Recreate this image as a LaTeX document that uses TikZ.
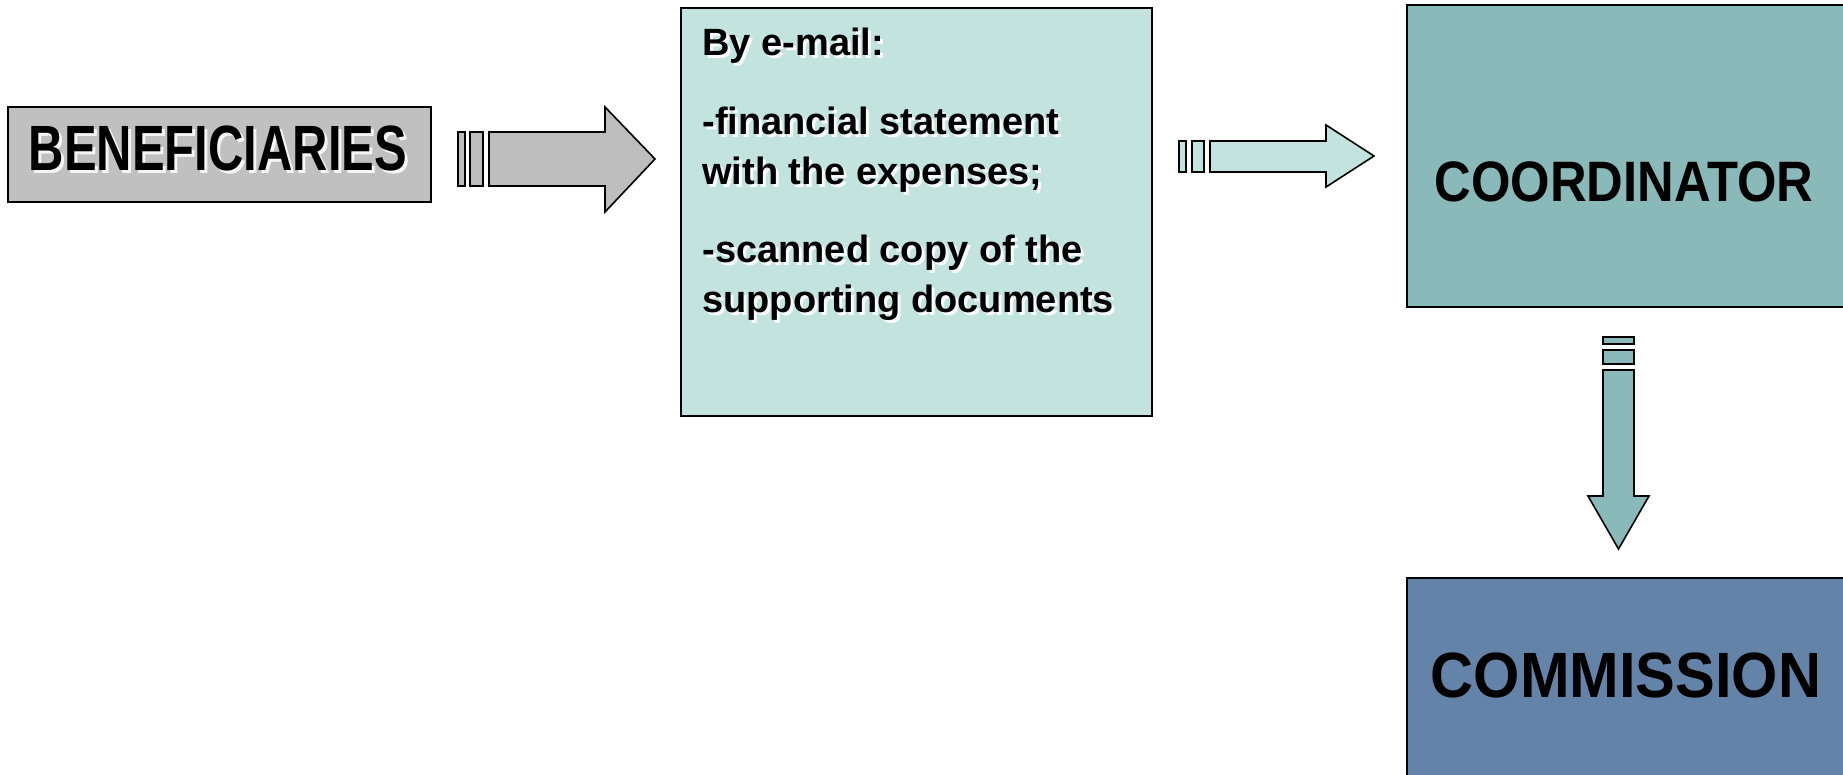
\documentclass[tikz,border=0pt]{standalone}
\usepackage{fontspec}
\setmainfont{Liberation Sans}
\usetikzlibrary{calc}

\definecolor{boxgrey}{HTML}{C0C0C0}
\definecolor{arrowgrey}{HTML}{BDBDBD}
\definecolor{mailfill}{HTML}{C3E3DF}
\definecolor{coordfill}{HTML}{8AB9B9}
\definecolor{commfill}{HTML}{6483A8}

% text with a soft white cast shadow below and to the right
\newcommand\castlabel[4]{%
  \node[#3, text=white, opacity=0.85] (#1s) at ($(#2)+(3,3)$) {#4};
  \node[#3] (#1) at (#2) {#4};}

\begin{document}
\begin{tikzpicture}[x=0.5pt, y=-0.5pt,
    panel/.style={draw=black, line width=0.8pt, inner sep=0pt, outer sep=0pt},
    blockarrow/.style={draw=black, line width=0.8pt, line join=miter},
    mailtext/.style={anchor=base west, inner sep=0pt, font=\bfseries\fontsize{19pt}{22pt}\selectfont},
    bigtext/.style={anchor=base, inner sep=0pt, font=\bfseries\fontsize{32pt}{36pt}\selectfont},
    midtext/.style={anchor=base, inner sep=0pt, font=\bfseries\fontsize{28.5pt}{32pt}\selectfont}]

\clip (0,0) rectangle (1843,775);
\fill[white] (0,0) rectangle (1843,775);

% boxes
\node[panel, fill=boxgrey, minimum width=211.5pt, minimum height=47.5pt] (ben) at (219.5,154.5) {};
\node[panel, fill=mailfill, minimum width=235.5pt, minimum height=204pt] (mail) at (916.5,212) {};
\node[panel, fill=coordfill, minimum width=223pt, minimum height=151pt] (coord) at (1630,156) {};
\node[panel, fill=commfill, minimum width=223pt, minimum height=106pt] (comm) at (1630,684) {};

% box labels
\castlabel{bentext}{218,171}{bigtext}{\scalebox{0.765}[1]{BENEFICIARIES}}
\node[midtext] (coordtext) at (1624,202) {\scalebox{0.89}[1]{COORDINATOR}};
\node[bigtext] (commtext) at (1626,697) {\scalebox{0.93}[1]{COMMISSION}};

\castlabel{m1}{702,56}{mailtext}{By e-mail:}
\castlabel{m2}{702,135}{mailtext}{-financial statement}
\castlabel{m3}{702,185}{mailtext}{with the expenses;}
\castlabel{m4}{702,263}{mailtext}{-scanned copy of the}
\castlabel{m5}{702,313}{mailtext}{supporting documents}

% striped arrow from the beneficiaries to the e-mail box
\coordinate (a1) at (458,159);
\begin{scope}[shift={(a1)}]
  \draw[blockarrow, fill=arrowgrey] (0,-27) rectangle (7,27);
  \draw[blockarrow, fill=arrowgrey] (12,-27) rectangle (25,27);
  \draw[blockarrow, fill=arrowgrey] (31,-27) -- (147,-27) -- (147,-52) -- (197,0)
        -- (147,53) -- (147,27) -- (31,27) -- cycle;
\end{scope}

% striped arrow from the e-mail box to the coordinator
\coordinate (a2) at (1179,156);
\begin{scope}[shift={(a2)}]
  \draw[blockarrow, fill=mailfill] (0,-15) rectangle (7,16);
  \draw[blockarrow, fill=mailfill] (13,-15) rectangle (25,16);
  \draw[blockarrow, fill=mailfill] (31,-15) -- (147,-15) -- (147,-31) -- (195,0)
        -- (147,31) -- (147,16) -- (31,16) -- cycle;
\end{scope}

% striped arrow from the coordinator down to the commission
\coordinate (a3) at (1618.5,337);
\begin{scope}[shift={(a3)}]
  \draw[blockarrow, fill=coordfill] (-15.5,0) rectangle (15.5,7);
  \draw[blockarrow, fill=coordfill] (-15.5,13) rectangle (15.5,27);
  \draw[blockarrow, fill=coordfill] (-15.5,33) -- (-15.5,159) -- (-30.5,159) -- (0,212)
        -- (30.5,159) -- (15.5,159) -- (15.5,33) -- cycle;
\end{scope}
\end{tikzpicture}
\end{document}
